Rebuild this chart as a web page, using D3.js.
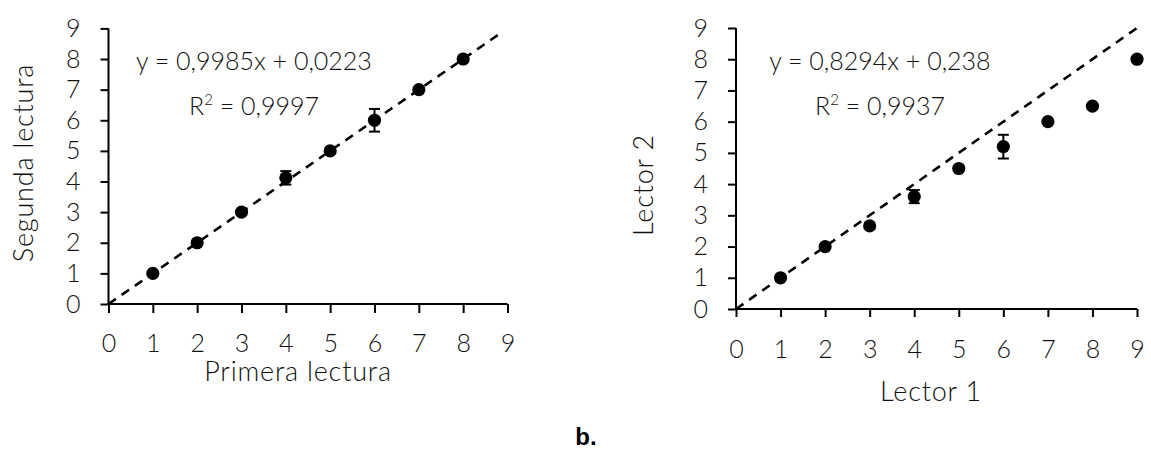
<!DOCTYPE html>
<html>
<head>
<meta charset="utf-8">
<script src="https://cdn.jsdelivr.net/npm/d3@7"></script>
<style>
  html, body { margin: 0; padding: 0; background: #fff; }
  svg { display: block; }
  .lbl { font-family: "Lato", "Open Sans", sans-serif; font-weight: 300; fill: #111; }
</style>
</head>
<body>
<script>
// ---------- data ----------
const ticks = [0, 1, 2, 3, 4, 5, 6, 7, 8, 9];

const leftX = [1, 2, 3, 4, 5, 6, 7, 8];
const leftY = [1, 2, 3, 4.12, 5, 6, 7, 8];
const leftErr = [0, 0, 0, 0.22, 0, 0.37, 0, 0];
const leftLine = [[0, 0], [8.86, 8.86]];
const leftEq = "y = 0,9985x + 0,0223";
const leftR2 = "0,9997";
const leftXTitle = "Primera lectura";
const leftYTitle = "Segunda lectura";

const rightX = [1, 2, 3, 4, 5, 6, 7, 8, 9];
const rightY = [1, 2, 2.66, 3.6, 4.5, 5.2, 6, 6.5, 8];
const rightErr = [0, 0, 0, 0.21, 0, 0.38, 0, 0, 0];
const rightLine = [[0, 0], [9, 9]];
const rightEq = "y = 0,8294x + 0,238";
const rightR2 = "0,9937";
const rightXTitle = "Lector 1";
const rightYTitle = "Lector 2";

const panelLabel = "b.";

// ---------- drawing ----------
const W = 1151, H = 451;
const svg = d3.select("body").append("svg").attr("width", W).attr("height", H);

function panel(cfg) {
  const x = d3.scaleLinear().domain([0, 9]).range(cfg.xr);
  const y = d3.scaleLinear().domain([0, 9]).range(cfg.yr);
  const g = svg.append("g");

  // dashed line
  g.append("path")
    .datum(cfg.line)
    .attr("d", d3.line().x(d => x(d[0])).y(d => y(d[1])))
    .attr("fill", "none").attr("stroke", "#000")
    .attr("stroke-width", 2.6).attr("stroke-dasharray", "9,7");

  // axes
  const xa = g.append("g").attr("transform", `translate(0,${cfg.yr[0]})`)
    .call(d3.axisBottom(x).tickValues(ticks).tickFormat(d3.format("d"))
      .tickSize(cfg.xTickSize).tickSizeOuter(0).tickPadding(cfg.xPad));
  const ya = g.append("g").attr("transform", `translate(${cfg.xr[0]},0)`)
    .call(d3.axisLeft(y).tickValues(ticks).tickFormat(d3.format("d"))
      .tickSize(cfg.yTickSize).tickSizeOuter(0).tickPadding(cfg.yPad));
  [xa, ya].forEach(a => {
    a.select(".domain").attr("stroke", "#000").attr("stroke-width", 2);
    a.selectAll(".tick line").attr("stroke", "#000").attr("stroke-width", 2);
    a.selectAll(".tick text").attr("class", "lbl").attr("font-size", 25)
      .attr("fill", "#111");
  });
  xa.attr("font-family", null); ya.attr("font-family", null);
  // extend domains to meet at origin corner
  xa.select(".domain").attr("d", `M${cfg.xr[0] - 1},0H${cfg.xr[1]}`);
  ya.select(".domain").attr("d", `M0,${cfg.yr[0] + 1}V${cfg.yr[1]}`);

  // error bars
  const pts = cfg.xs.map((v, i) => ({ x: v, y: cfg.ys[i], e: cfg.err[i] }));
  const eb = g.append("g");
  pts.filter(d => d.e > 0).forEach(d => {
    const cx = x(d.x), y1 = y(d.y + d.e), y2 = y(d.y - d.e);
    eb.append("line").attr("x1", cx).attr("x2", cx).attr("y1", y1).attr("y2", y2)
      .attr("stroke", "#000").attr("stroke-width", 2);
    [y1, y2].forEach(yy => eb.append("line").attr("x1", cx - 5.5).attr("x2", cx + 5.5)
      .attr("y1", yy).attr("y2", yy).attr("stroke", "#000").attr("stroke-width", 2));
  });

  // points
  g.selectAll("circle.pt").data(pts).enter().append("circle")
    .attr("cx", d => x(d.x)).attr("cy", d => y(d.y)).attr("r", 6.6).attr("fill", "#000");

  // equation text
  g.append("text").attr("class", "lbl").attr("font-size", 25)
    .attr("x", cfg.eqX).attr("y", 70).attr("text-anchor", "middle").text(cfg.eq);
  const r2 = g.append("text").attr("class", "lbl").attr("font-size", 25)
    .attr("x", cfg.eqX).attr("y", 115).attr("text-anchor", "middle");
  r2.append("tspan").text("R");
  r2.append("tspan").attr("font-size", 15).attr("dy", -10).text("2");
  r2.append("tspan").attr("dy", 10).text(" = " + cfg.r2);

  // axis titles
  g.append("text").attr("class", "lbl").attr("font-size", 27).attr("letter-spacing", 0.8)
    .attr("x", cfg.xtX).attr("y", cfg.xtY).attr("text-anchor", "middle").text(cfg.xTitle);
  g.append("text").attr("class", "lbl").attr("font-size", 27).attr("letter-spacing", 0.8)
    .attr("transform", `translate(${cfg.ytX},${cfg.ytY}) rotate(-90)`)
    .attr("text-anchor", "middle").text(cfg.yTitle);
}

panel({
  xr: [108.5, 507.5], yr: [304, 28.4],
  xs: leftX, ys: leftY, err: leftErr, line: leftLine,
  xTickSize: 9, yTickSize: 8, xPad: 21, yPad: 20,
  eq: leftEq, r2: leftR2, eqX: 254,
  xTitle: leftXTitle, yTitle: leftYTitle,
  xtX: 298, xtY: 381, ytX: 33, ytY: 163
});

panel({
  xr: [736, 1137], yr: [309, 28],
  xs: rightX, ys: rightY, err: rightErr, line: rightLine,
  xTickSize: 8, yTickSize: 8, xPad: 23, yPad: 20,
  eq: rightEq, r2: rightR2, eqX: 880,
  xTitle: rightXTitle, yTitle: rightYTitle,
  xtX: 931, xtY: 401, ytX: 653, ytY: 185
});

svg.append("text").attr("x", 586).attr("y", 445).attr("text-anchor", "middle")
  .attr("font-family", "Liberation Sans, Arial, sans-serif").attr("font-weight", "bold")
  .attr("font-size", 24).attr("fill", "#000").text(panelLabel);
</script>
</body>
</html>
